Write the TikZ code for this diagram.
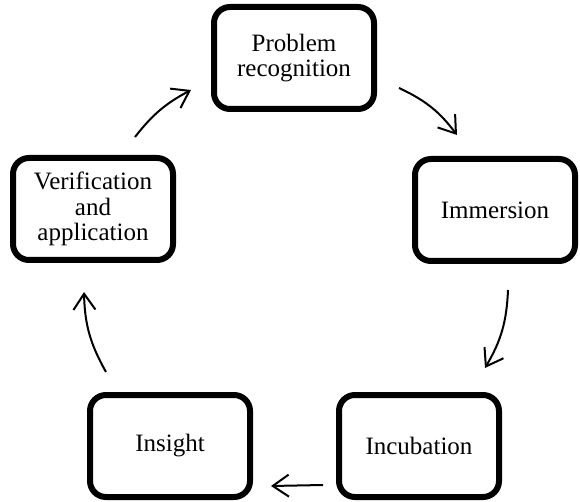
\documentclass[tikz,border=0pt]{standalone}
\usepackage{fontspec}
\setmainfont{Liberation Serif}
\usetikzlibrary{arrows.meta}
\begin{document}
\begin{tikzpicture}[x=1pt,y=1pt,
  stagebox/.style={draw=black, line width=6pt, rounded corners=16pt, fill=white,
    minimum width=160pt, minimum height=102pt, align=center,
    font=\fontsize{25}{25.5}\selectfont, inner sep=2pt},
  cyclearrow/.style={line width=2pt, -{Straight Barb[length=16pt,width=22pt,line width=2pt]}}]
\useasboundingbox (0,0) rectangle (580,-502);
\node[stagebox] (pr) at (294,-58) {Problem\\recognition};
\node[stagebox] (im) at (495,-210) {Immersion};
\node[stagebox] (in) at (419,-446) {Incubation};
\node[stagebox] (is) at (170,-446) {Insight};
\node[stagebox] (va) at (93,-209) {Verification\\and\\application};
\coordinate (a1s) at (399,-88);
\coordinate (a1e) at (457,-135);
\coordinate (a2s) at (508,-290);
\coordinate (a2e) at (485,-368);
\coordinate (a3s) at (323,-485);
\coordinate (a3e) at (271,-486);
\coordinate (a4s) at (106,-372);
\coordinate (a4e) at (84,-292);
\coordinate (a5s) at (135,-137);
\coordinate (a5e) at (191,-90);
\draw[cyclearrow] (a1s) to[bend left=14] (a1e);
\draw[cyclearrow] (a2s) to[bend left=14] (a2e);
\draw[cyclearrow] (a3s) -- (a3e);
\draw[cyclearrow] (a4s) to[bend left=14] (a4e);
\draw[cyclearrow] (a5s) to[bend left=12] (a5e);
\end{tikzpicture}
\end{document}
